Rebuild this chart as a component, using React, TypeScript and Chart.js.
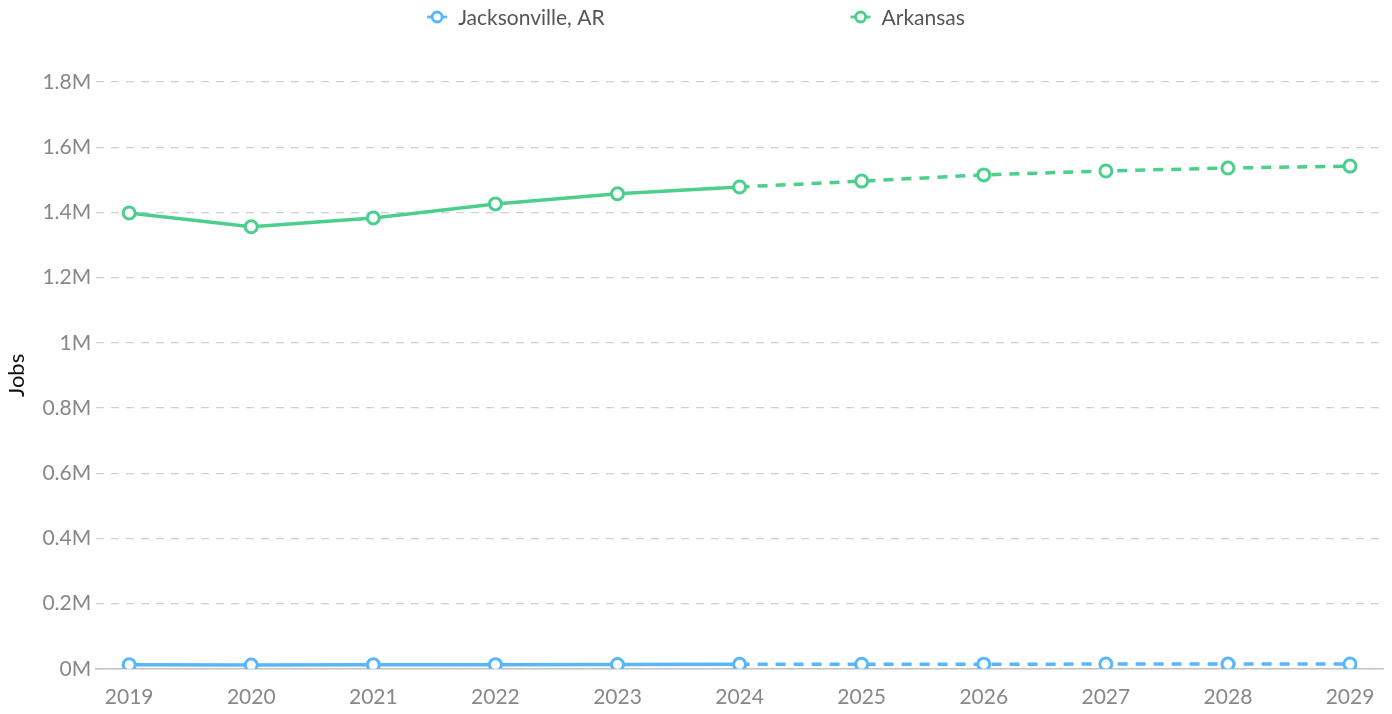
import React, { useEffect, useRef } from "react";
import { Chart, registerables } from "chart.js";

Chart.register(...registerables);

const years = [2019, 2020, 2021, 2022, 2023, 2024, 2025, 2026, 2027, 2028, 2029];
const jacksonville = [12500, 11800, 12100, 12800, 13400, 13700, 14000, 14200, 14400, 14500, 14600];
const arkansas = [1398000, 1356000, 1383000, 1426000, 1457000, 1478000, 1496000, 1515000, 1527000, 1536000, 1542000];
const seriesNames = ["Jacksonville, AR", "Arkansas"];
const seriesColors = ["#5ab6fb", "#4ccf8c"];
const lastActualIndex = 5;

const FONT = "Lato";

const legendPlugin = {
  id: "topLegend",
  afterDraw(chart: any) {
    const ctx = chart.ctx;
    const sets = chart.data.datasets;
    ctx.save();
    ctx.font = `21px ${FONT}`;
    const iconW = 20;
    const textGap = 11;
    const itemGap = 246;
    const widths = sets.map((d: any) => iconW + textGap + ctx.measureText(d.label).width);
    const total = widths.reduce((a: number, b: number) => a + b, 0) + itemGap * (sets.length - 1);
    let x = chart.width / 2 - total / 2;
    const y = 17;
    sets.forEach((d: any, i: number) => {
      const color = d.borderColor;
      ctx.strokeStyle = color;
      ctx.lineWidth = 2.8;
      ctx.beginPath();
      ctx.moveTo(x, y);
      ctx.lineTo(x + iconW, y);
      ctx.stroke();
      ctx.beginPath();
      ctx.arc(x + iconW / 2, y, 5, 0, Math.PI * 2);
      ctx.fillStyle = "#fff";
      ctx.fill();
      ctx.stroke();
      ctx.fillStyle = "#555";
      ctx.textBaseline = "middle";
      ctx.textAlign = "left";
      ctx.fillText(d.label, x + iconW + textGap, y + 1);
      x += widths[i] + itemGap;
    });
    ctx.restore();
  },
};

export default function App() {
  const ref = useRef<HTMLCanvasElement>(null);
  useEffect(() => {
    document.body.style.margin = "0";
    const mk = (i: number, vals: number[]) => ({
      label: seriesNames[i],
      data: years.map((y, k) => ({ x: y, y: vals[k] })),
      borderColor: seriesColors[i],
      backgroundColor: "#fff",
      pointBackgroundColor: "#fff",
      pointBorderColor: seriesColors[i],
      pointRadius: 6,
      pointBorderWidth: 3,
      borderWidth: 3.5,
      tension: 0,
      segment: {
        borderDash: (ctx: any) => (ctx.p0DataIndex >= lastActualIndex ? [10, 8] : undefined),
      },
    });
    const chart = new Chart(ref.current!, {
      type: "line",
      data: { datasets: [mk(0, jacksonville), mk(1, arkansas)] },
      plugins: [legendPlugin],
      options: {
        animation: false,
        responsive: false,
        layout: { padding: { left: 4, right: 8, top: 82, bottom: -12 } },
        plugins: {
          tooltip: { enabled: false },
          legend: { display: false },
        },
        scales: {
          x: {
            type: "linear",
            min: 2018.73,
            max: 2029.27,
            afterBuildTicks: (axis: any) => {
              axis.ticks = years.map((v) => ({ value: v }));
            },
            grid: { display: false, drawTicks: false },
            border: { display: true, color: "#c4c4c4", width: 1.5 },
            ticks: {
              color: "#888",
              font: { family: FONT, size: 21 },
              padding: 16,
              autoSkip: false,
              maxRotation: 0,
              callback: (v: any) => String(v),
            },
          },
          y: {
            min: 0,
            max: 1800000,
            ticks: {
              stepSize: 200000,
              color: "#888",
              font: { family: FONT, size: 21 },
              padding: 5,
              callback: (v: any) => +(v / 1e6).toFixed(1) + "M",
            },
            grid: { color: "#d0d0d0", lineWidth: 1.3, drawTicks: false },
            border: { display: false, dash: [8, 7] },
            title: {
              display: true,
              text: "Jobs",
              color: "#111",
              font: { family: FONT, size: 22 },
              padding: { top: 0, bottom: 7 },
            },
          },
        },
      },
    });
    return () => chart.destroy();
  }, []);
  return (
    <div style={{ width: 1392, height: 714 }}>
      <canvas ref={ref} width={1392} height={714} />
    </div>
  );
}
